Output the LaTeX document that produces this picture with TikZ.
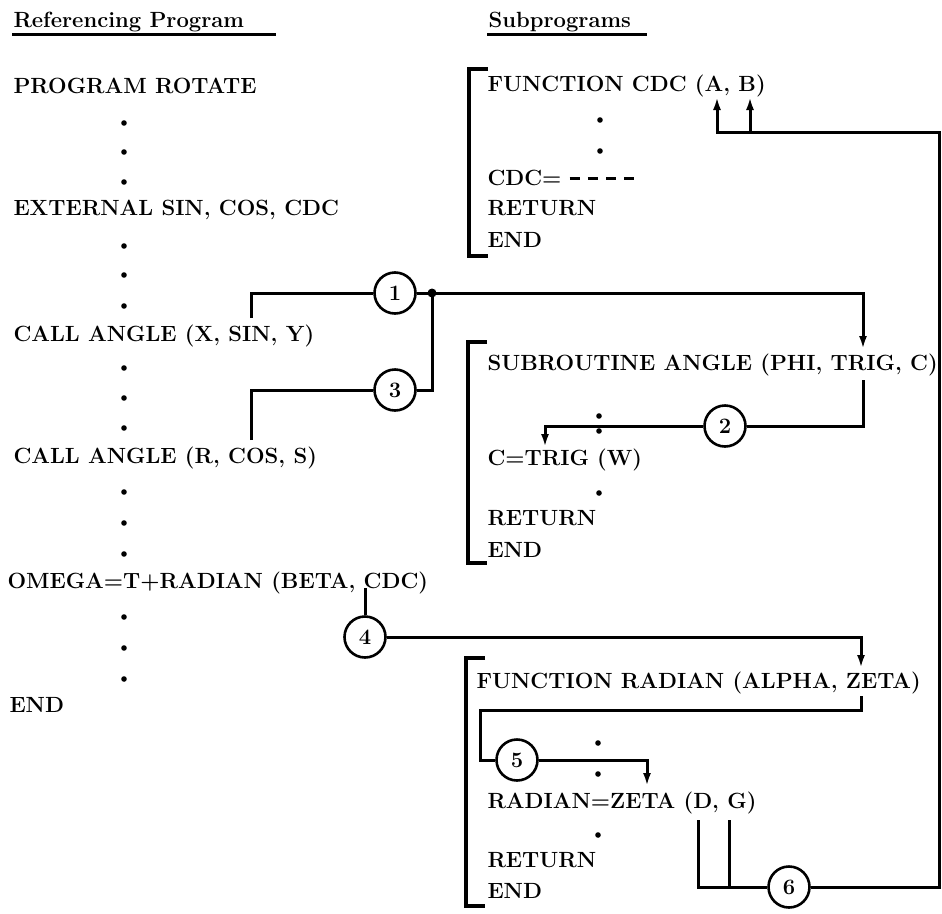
\documentclass[tikz,border=0pt]{standalone}
\usetikzlibrary{arrows.meta}
\begin{document}
\begin{tikzpicture}[x=1pt, y=-1pt, line width=3pt, >={Latex[length=13pt,width=8pt]},
    font=\fontsize{22}{26}\selectfont\bfseries,
    code/.style={anchor=base west, inner sep=0pt},
    num/.style={circle, draw, line width=2.6pt, minimum size=41pt, inner sep=0pt},
    brk/.style={line width=3.2pt}]
    \useasboundingbox (0,0) rectangle (942,913);
    % headings
    \node[code] (hdref) at (12,27) {Referencing Program};
    \node[code] (hdsub) at (487,27) {Subprograms};
    \draw (12,34) -- (276,34);
    \draw (487,34) -- (647,34);
    % referencing program
    \node[code] (rot) at (12,93) {PROGRAM ROTATE};
    \node[code] (ext) at (12,215) {EXTERNAL SIN, COS, CDC};
    \node[code] (callx) at (12,341) {CALL ANGLE (X, SIN, Y)};
    \node[code] (callr) at (12,463) {CALL ANGLE (R, COS, S)};
    \node[code] (omega) at (6,588) {OMEGA=T+RADIAN (BETA, CDC)};
    \node[code] (endm) at (8,712) {END};
    \foreach \y in {123,152,182,246,275,306,368,398,428,492,523,554,617,648,679}
    \fill (124,\y) circle (2.8pt);
    % subprograms
    \draw[brk] (488,69) -- (469,69) -- (469,256) -- (488,256);
    \draw[brk] (487,342) -- (468,342) -- (468,563) -- (487,563);
    \draw[brk] (485,658) -- (466,658) -- (466,906) -- (485,906);
    \node[code] (cdc) at (486,91) {FUNCTION CDC (A, B)};
    \node[code] (cdcset) at (486,185) {CDC= \rule[5pt]{10pt}{3pt} \rule[5pt]{10pt}{3pt} \rule[5pt]{10pt}{3pt} \rule[5pt]{10pt}{3pt}};
    \node[code] (cdcret) at (486,215) {RETURN};
    \node[code] (cdcend) at (486,247) {END};
    \node[code] (sub) at (486,370) {SUBROUTINE ANGLE (PHI, TRIG, C)};
    \node[code] (ctrig) at (486,465) {C=TRIG (W)};
    \node[code] (subret) at (486,525) {RETURN};
    \node[code] (subend) at (486,557) {END};
    \node[code] (rad) at (475,688) {FUNCTION RADIAN (ALPHA, ZETA)};
    \node[code] (radz) at (486,808) {RADIAN=ZETA (D, G)};
    \node[code] (radret) at (486,867) {RETURN};
    \node[code] (radend) at (486,898) {END};
    \foreach \x/\y in {600/120,600/151,599/416,599/431,599/493,598/743,598/774,598/835}
    \fill (\x,\y) circle (2.8pt);
    % numbered links
    \node[num] (c1) at (395,293) {1};
    \node[num] (c3) at (395,390) {3};
    \node[num] (c2) at (725,426) {2};
    \node[num] (c4) at (365,637) {4};
    \node[num] (c5) at (517,760) {5};
    \node[num] (c6) at (789,887) {6};
    \path
    (251,318) coordinate (sinA)
    (251,440) coordinate (cosA)
    (432,293) coordinate (jn)
    (863,349) coordinate (phiIn)
    (863,380) coordinate (trigOut)
    (545,447) coordinate (ctIn)
    (365,588) coordinate (cdcOut)
    (861,668) coordinate (zetaIn)
    (861,696) coordinate (zetaOut)
    (480,710) coordinate (radL)
    (647,786) coordinate (zIn)
    (698,820) coordinate (dOut)
    (729,820) coordinate (gOut)
    (939,132) coordinate (rcol)
    (717,97) coordinate (aIn)
    (750,97) coordinate (bIn)
    ;
    \draw[->] (sinA) |- (c1) (c1) -- (jn) -| (phiIn);
    \draw (cosA) |- (c3) (c3) -| (jn);
    \fill (jn) circle (4.5pt);
    \draw[->] (trigOut) |- (c2) (c2) -| (ctIn);
    \draw (cdcOut) -- (c4);
    \draw[->] (c4) -| (zetaIn);
    \draw[->] (zetaOut) |- (radL) |- (c5) (c5) -| (zIn);
    \draw (dOut) |- (c6) (gOut) -- (gOut |- c6);
    \draw[->] (c6) -| (rcol) -| (aIn);
    \draw[->] (bIn |- rcol) -- (bIn);
\end{tikzpicture}
\end{document}
